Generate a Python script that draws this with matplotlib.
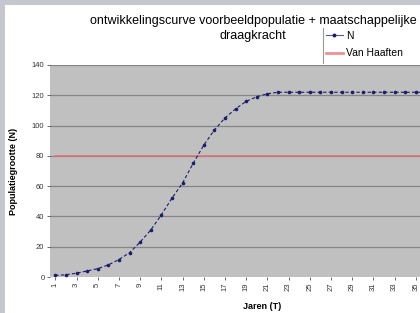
import numpy as np
import matplotlib
matplotlib.use('Agg')
import matplotlib.pyplot as plt
from matplotlib.lines import Line2D

plt.rcParams['font.family'] = ['Liberation Sans', 'DejaVu Sans']

# data
years = list(range(1, 41))
population = [1, 1.5, 2.5, 4, 5.5, 8, 11.5, 16, 23, 31,
              41, 52, 62, 75, 87, 97, 105, 111, 116, 119,
              121, 122, 122, 122, 122, 122, 122, 122, 122, 122,
              122, 122, 122, 122, 122, 122, 122, 122, 122, 122]
van_haaften = [80] * len(years)
x_labels = [str(y) for y in years]

fig = plt.figure(figsize=(4.2, 3.13), dpi=100)
fig.patch.set_facecolor('#c6c6ce')
# white chart area inside the grey border
fig.add_artist(plt.Rectangle((5 / 420, 0), 1, 1 - 5 / 313, transform=fig.transFigure,
                             facecolor='white', edgecolor='none', zorder=0))

ax = fig.add_axes([50 / 420, 36 / 313, 424 / 420, 212 / 313])
ax.set_facecolor('#c0c0c0')
ax.set_zorder(1)

for yv in range(20, 141, 20):
    ax.axhline(yv, color='#858585', lw=0.9, zorder=1)

ax.plot(years, van_haaften, color='#e07070', lw=1.1, zorder=2, label='Van Haaften')
ax.plot(years, population, color='#1c1c6c', lw=0.8, ls=(0, (3, 2)),
        marker='o', ms=1.6, zorder=3, label='N')

ax.set_xlim(0.5, len(years) + 0.5)
ax.set_ylim(0, 140)
ax.set_yticks(range(0, 141, 20))
ax.set_xticks(years[::2])
ax.set_xticklabels(x_labels[::2], rotation=90)
ax.tick_params(axis='both', labelsize=5.5, length=2, width=0.5, colors='#333333', pad=2)
for s in ax.spines.values():
    s.set_visible(False)

ax.set_xlabel('Jaren (T)', fontsize=6.5, fontweight='bold', labelpad=8)
ax.set_ylabel('Populatiegrootte (N)', fontsize=6.5, fontweight='bold', labelpad=10)

# title, two lines as in the reference
fig.text(253 / 420, 1 - 21 / 313, 'ontwikkelingscurve voorbeeldpopulatie + maatschappelijke',
         ha='center', va='center', fontsize=9)
fig.text(253 / 420, 1 - 36 / 313, 'draagkracht',
         ha='center', va='center', fontsize=9)

# legend: Excel style, only the left edge of its box shows
handles = [Line2D([], [], color='#5a5a9a', lw=0.8, marker='o', ms=1.8,
                  markerfacecolor='#1c1c6c', markeredgecolor='#1c1c6c'),
           Line2D([], [], color='#f09090', lw=2)]
leg = fig.legend(handles, ['N', 'Van Haaften'], loc='upper left',
                 bbox_to_anchor=(323 / 420, 1 - 28 / 313), fontsize=7.5,
                 frameon=True, fancybox=False, handlelength=1.6, borderpad=0.3,
                 labelspacing=0.7, handletextpad=0.3, borderaxespad=0)
leg.get_frame().set_edgecolor('none')
leg.set_zorder(5)
fig.add_artist(Line2D([323 / 420, 323 / 420], [1 - 28 / 313, 1 - 63 / 313],
                      transform=fig.transFigure, color='#9a9a9a', lw=0.8, zorder=6))

fig.savefig('out.png', dpi=100)
